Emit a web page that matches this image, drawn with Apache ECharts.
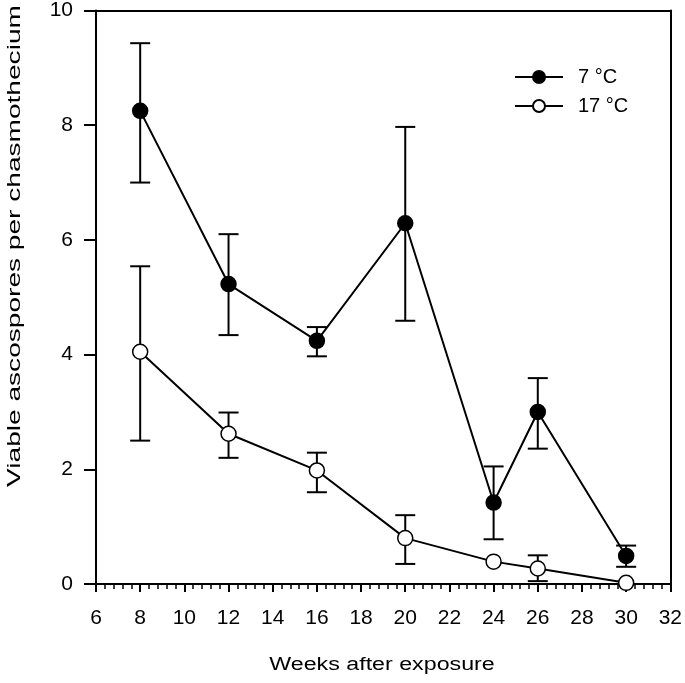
<!DOCTYPE html>
<html>
<head>
<meta charset="utf-8">
<script src="https://cdn.jsdelivr.net/npm/echarts@6/dist/echarts.min.js"></script>
<style>html,body{margin:0;padding:0;background:#fff;}#c{width:685px;height:683px;}</style>
</head>
<body>
<div id="c"></div>
<script>
var weeks = [8, 12, 16, 20, 24, 26, 30];
var mean7 = [8.25, 5.23, 4.24, 6.29, 1.42, 3.0, 0.49];
var low7  = [7.0, 4.34, 3.97, 4.59, 0.78, 2.36, 0.3];
var high7 = [9.43, 6.1, 4.48, 7.97, 2.05, 3.59, 0.67];
var mean17 = [4.05, 2.62, 1.98, 0.8, 0.39, 0.27, 0.02];
var low17  = [2.5, 2.2, 1.6, 0.35, null, 0.05, null];
var high17 = [5.54, 2.99, 2.29, 1.2, null, 0.5, null];
var xTicks = [6, 8, 10, 12, 14, 16, 18, 20, 22, 24, 26, 28, 30, 32];
var yTicks = [0, 2, 4, 6, 8, 10];
var xTitle = 'Weeks after exposure';
var yTitle = 'Viable ascospores per chasmothecium';

var font = 'Liberation Sans, Arial, sans-serif';
function pairs(xs, ys) { return xs.map(function (x, i) { return [x, ys[i]]; }); }
function errData(xs, lo, hi) {
  var out = [];
  xs.forEach(function (x, i) { if (lo[i] != null && hi[i] != null) out.push([x, lo[i], hi[i]]); });
  return out;
}
function errItem(params, api) {
  var x = api.value(0);
  var pLo = api.coord([x, api.value(1)]);
  var pHi = api.coord([x, api.value(2)]);
  var hw = 10;
  var st = { stroke: '#000', lineWidth: 2 };
  return {
    type: 'group',
    children: [
      { type: 'line', shape: { x1: pLo[0], y1: pLo[1], x2: pHi[0], y2: pHi[1] }, style: st },
      { type: 'line', shape: { x1: pLo[0] - hw, y1: pLo[1], x2: pLo[0] + hw, y2: pLo[1] }, style: st },
      { type: 'line', shape: { x1: pHi[0] - hw, y1: pHi[1], x2: pHi[0] + hw, y2: pHi[1] }, style: st }
    ]
  };
}

var chart = echarts.init(document.getElementById('c'));
chart.setOption({
  animation: false,
  backgroundColor: '#fff',
  grid: { left: 96, right: 11, top: 7, bottom: 99 },
  graphic: [
    { type: 'text', x: 382, y: 665, scaleX: 1.29,
      style: { text: xTitle, font: '18px ' + font, fill: '#000', align: 'center', verticalAlign: 'middle' } },
    { type: 'text', x: 15, y: 246, rotation: Math.PI / 2, scaleX: 1.56,
      style: { text: yTitle, font: '18px ' + font, fill: '#000', align: 'center', verticalAlign: 'middle' } }
  ],
  legend: {
    data: ['7 °C', '17 °C'],
    orient: 'vertical',
    left: 514,
    top: 67,
    padding: 0,
    itemWidth: 48,
    itemHeight: 15,
    itemGap: 9,
    textStyle: { fontFamily: font, fontSize: 20, color: '#000', padding: [0, 0, 0, 10] }
  },
  xAxis: [{
    type: 'value', min: 6, max: 32, interval: 2,
    axisLine: { onZero: false, lineStyle: { color: '#000', width: 2 } },
    axisTick: { show: true, length: 8, inside: false, lineStyle: { color: '#000', width: 2 } },
    minorTick: { show: true, splitNumber: 5, length: 5, lineStyle: { color: '#000', width: 1.5 } },
    axisLabel: { fontFamily: font, fontSize: 21, color: '#000', margin: 24,
      formatter: function (v) { return xTicks.indexOf(v) >= 0 ? String(v) : ''; } },
    splitLine: { show: false }
  }, {
    type: 'value', min: 6, max: 32, position: 'top',
    axisLine: { onZero: false, lineStyle: { color: '#000', width: 2 } },
    axisTick: { show: false }, axisLabel: { show: false }, splitLine: { show: false }
  }],
  yAxis: [{
    type: 'value', min: 0, max: 10, interval: 2,
    axisLine: { onZero: false, lineStyle: { color: '#000', width: 2 } },
    axisTick: { show: true, length: 12, inside: false, lineStyle: { color: '#000', width: 2 } },
    axisLabel: { fontFamily: font, fontSize: 21, color: '#000', margin: 23,
      formatter: function (v) { return yTicks.indexOf(v) >= 0 ? String(v) : ''; } },
    splitLine: { show: false }
  }, {
    type: 'value', min: 0, max: 10, position: 'right',
    axisLine: { onZero: false, lineStyle: { color: '#000', width: 2 } },
    axisTick: { show: false }, axisLabel: { show: false }, splitLine: { show: false }
  }],
  series: [
    { type: 'custom', name: 'err7', renderItem: errItem, data: errData(weeks, low7, high7), z: 1, silent: true },
    { type: 'custom', name: 'err17', renderItem: errItem, data: errData(weeks, low17, high17), z: 1, silent: true },
    {
      type: 'line', name: '7 °C', data: pairs(weeks, mean7), z: 3,
      symbol: 'circle', symbolSize: 15,
      lineStyle: { color: '#000', width: 2 },
      itemStyle: { color: '#000', borderColor: '#000', borderWidth: 1.5 }
    },
    {
      type: 'line', name: '17 °C', data: pairs(weeks, mean17), z: 3,
      symbol: 'circle', symbolSize: 15,
      lineStyle: { color: '#000', width: 2 },
      itemStyle: { color: '#fff', borderColor: '#000', borderWidth: 1.5 }
    }
  ]
});
</script>
</body>
</html>
